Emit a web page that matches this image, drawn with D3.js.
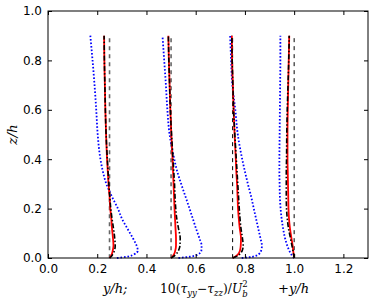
<!DOCTYPE html>
<html>
<head>
<meta charset="utf-8">
<script src="https://cdn.jsdelivr.net/npm/d3@7"></script>
<style>
  body { margin: 0; background: #fff; }
  svg { display: block; }
  .tick text { font-family: "DejaVu Sans", sans-serif; font-size: 12px; fill: #000; }
</style>
</head>
<body>
<div id="plot"></div>
<script>
// wall-normal positions where every profile is sampled
const zGrid = [0, 0.005, 0.015, 0.03, 0.05, 0.08, 0.12, 0.16, 0.2, 0.25, 0.3, 0.35, 0.4, 0.5, 0.6, 0.7, 0.8, 0.9];

// y/h offset of each station
const offsets = [0.25, 0.5, 0.75, 1.0];
const refTop = 0.89;

// red solid profiles
const redProfiles = [
  [0.250, 0.254, 0.259, 0.263, 0.266, 0.264, 0.260, 0.257, 0.253, 0.250, 0.246, 0.243, 0.240, 0.236, 0.233, 0.231, 0.229, 0.228],
  [0.500, 0.505, 0.512, 0.517, 0.520, 0.520, 0.518, 0.516, 0.514, 0.512, 0.510, 0.508, 0.506, 0.501, 0.497, 0.494, 0.491, 0.489],
  [0.750, 0.760, 0.772, 0.780, 0.783, 0.784, 0.779, 0.775, 0.772, 0.770, 0.768, 0.765, 0.763, 0.758, 0.754, 0.751, 0.748, 0.747],
  [1.000, 0.999, 0.998, 0.996, 0.994, 0.989, 0.983, 0.979, 0.977, 0.976, 0.975, 0.974, 0.973, 0.973, 0.974, 0.976, 0.978, 0.980]
];

// black dash-dot profiles
const blackProfiles = [
  [0.250, 0.256, 0.263, 0.270, 0.273, 0.271, 0.266, 0.260, 0.255, 0.251, 0.247, 0.244, 0.241, 0.236, 0.233, 0.231, 0.229, 0.228],
  [0.500, 0.508, 0.520, 0.530, 0.536, 0.537, 0.530, 0.523, 0.519, 0.516, 0.514, 0.511, 0.508, 0.502, 0.497, 0.494, 0.491, 0.489],
  [0.750, 0.762, 0.778, 0.789, 0.793, 0.790, 0.784, 0.780, 0.777, 0.774, 0.771, 0.768, 0.765, 0.759, 0.754, 0.751, 0.748, 0.747],
  [1.000, 0.999, 0.998, 0.995, 0.991, 0.985, 0.977, 0.972, 0.969, 0.968, 0.968, 0.968, 0.969, 0.970, 0.972, 0.975, 0.978, 0.980]
];

// blue dotted profiles
const blueProfiles = [
  [0.280, 0.320, 0.350, 0.365, 0.360, 0.345, 0.322, 0.300, 0.284, 0.259, 0.237, 0.223, 0.213, 0.202, 0.196, 0.189, 0.181, 0.172],
  [0.530, 0.575, 0.610, 0.623, 0.624, 0.615, 0.601, 0.588, 0.575, 0.558, 0.541, 0.525, 0.513, 0.494, 0.485, 0.479, 0.472, 0.465],
  [0.787, 0.830, 0.855, 0.866, 0.869, 0.863, 0.854, 0.845, 0.836, 0.825, 0.812, 0.800, 0.789, 0.771, 0.761, 0.749, 0.744, 0.740],
  [1.000, 0.995, 0.988, 0.980, 0.972, 0.963, 0.955, 0.949, 0.945, 0.942, 0.941, 0.940, 0.940, 0.941, 0.942, 0.943, 0.944, 0.944]
];

const xTicks = [0, 0.2, 0.4, 0.6, 0.8, 1.0, 1.2];
const yTicks = [0, 0.2, 0.4, 0.6, 0.8, 1.0];

const width = 374;
const height = 304;
const margin = { top: 11, right: 6, bottom: 46, left: 48 };

const svg = d3.select("#plot")
  .append("svg")
  .attr("width", width)
  .attr("height", height);

const x = d3.scaleLinear()
  .domain([0, 1.3])
  .range([margin.left, width - margin.right]);

const y = d3.scaleLinear()
  .domain([0, 1])
  .range([height - margin.bottom, margin.top]);

const line = d3.line()
  .x(d => x(d[0]))
  .y(d => y(d[1]))
  .curve(d3.curveMonotoneY);

const plot = svg.append("g");

// reference lines at each offset
plot.selectAll(".ref")
  .data(offsets)
  .enter()
  .append("path")
  .attr("class", "ref")
  .attr("fill", "none")
  .attr("stroke", (d, i) => i < 2 ? "#666" : "#000")
  .attr("stroke-width", (d, i) => i < 2 ? 1.6 : 1)
  .attr("stroke-dasharray", "4,4")
  .attr("d", d => line([[d, refTop], [d, 0]]));

function drawProfiles(profiles, stroke, width, dash) {
  plot.append("g")
    .selectAll("path")
    .data(profiles)
    .enter()
    .append("path")
    .attr("fill", "none")
    .attr("stroke", stroke)
    .attr("stroke-width", width)
    .attr("stroke-dasharray", dash)
    .attr("d", vals => line(vals.map((v, k) => [v, zGrid[k]])));
}

drawProfiles(blueProfiles, "#0000ff", 1.8, "1.6,1.9");
drawProfiles(redProfiles, "#ff0000", 1.8, null);
drawProfiles(blackProfiles, "#000", 1.6, "5,2,1.5,2");

// axes, ticks inside on all four sides
svg.append("g")
  .attr("transform", `translate(0,${height - margin.bottom})`)
  .call(d3.axisBottom(x).tickValues(xTicks).tickFormat(d3.format(".1f")).tickSizeInner(-4).tickSizeOuter(0).tickPadding(6))
  .call(g => g.select(".domain").remove());

svg.append("g")
  .attr("transform", `translate(0,${margin.top})`)
  .call(d3.axisTop(x).tickValues(xTicks).tickFormat("").tickSizeInner(-4).tickSizeOuter(0))
  .call(g => g.select(".domain").remove());

svg.append("g")
  .attr("transform", `translate(${margin.left},0)`)
  .call(d3.axisLeft(y).tickValues(yTicks).tickFormat(d3.format(".1f")).tickSizeInner(-4).tickSizeOuter(0).tickPadding(6))
  .call(g => g.select(".domain").remove());

svg.append("g")
  .attr("transform", `translate(${width - margin.right},0)`)
  .call(d3.axisRight(y).tickValues(yTicks).tickFormat("").tickSizeInner(-4).tickSizeOuter(0))
  .call(g => g.select(".domain").remove());

svg.append("rect")
  .attr("x", margin.left)
  .attr("y", margin.top)
  .attr("width", width - margin.left - margin.right)
  .attr("height", height - margin.top - margin.bottom)
  .attr("fill", "none")
  .attr("stroke", "#000")
  .attr("stroke-width", 1);

// axis labels (mathtext style)
const label = svg.append("text")
  .attr("y", 293)
  .attr("font-family", "'DejaVu Serif', serif")
  .attr("font-size", 13)
  .attr("fill", "#000");

label.append("tspan").attr("x", 103).attr("font-style", "italic").text("y/h;");
const mid = label.append("tspan").attr("x", 160).attr("font-size", 12.3);
mid.append("tspan").text("10(");
mid.append("tspan").attr("font-style", "italic").text("τ");
mid.append("tspan").attr("font-style", "italic").attr("font-size", 8.5).attr("dy", 3).text("yy");
mid.append("tspan").attr("dy", -3).text("−");
mid.append("tspan").attr("font-style", "italic").text("τ");
mid.append("tspan").attr("font-style", "italic").attr("font-size", 8.5).attr("dy", 3).text("zz");
mid.append("tspan").attr("dy", -3).text(")/");
mid.append("tspan").attr("font-style", "italic").text("U");
const sub = mid.append("tspan").attr("font-style", "italic").attr("font-size", 8.5).attr("dy", 4).text("b");
mid.append("tspan").attr("font-size", 8.5).attr("dx", -sub.node().getComputedTextLength()).attr("dy", -10).text("2");
label.append("tspan").attr("x", 278).attr("dy", 6).text("+");
label.append("tspan").attr("font-style", "italic").text("y/h");

svg.append("text")
  .attr("transform", `translate(17,${(margin.top + height - margin.bottom) / 2}) rotate(-90)`)
  .attr("text-anchor", "middle")
  .attr("font-family", "'DejaVu Serif', serif")
  .attr("font-style", "italic")
  .attr("font-size", 13.5)
  .attr("fill", "#000")
  .text("z/h");
</script>
</body>
</html>
